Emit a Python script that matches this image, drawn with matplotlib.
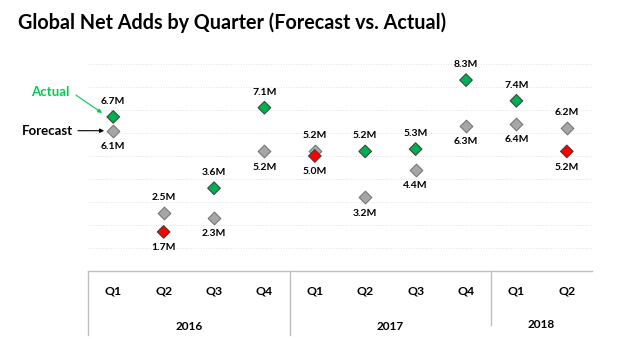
import numpy as np
import matplotlib.pyplot as plt

quarters = ['Q1', 'Q2', 'Q3', 'Q4', 'Q1', 'Q2', 'Q3', 'Q4', 'Q1', 'Q2']
years = ['2016', '2017', '2018']
year_quarters = [4, 4, 2]
forecast = [6.1, 2.5, 2.3, 5.2, 5.2, 3.2, 4.4, 6.3, 6.4, 6.2]
actual = [6.7, 1.7, 3.6, 7.1, 5.0, 5.2, 5.3, 8.3, 7.4, 5.2]

plt.rcParams['font.family'] = ['Lato', 'DejaVu Sans']

GREEN = '#00b050'
RED = '#ff0000'
GREY = '#a6a6a6'

fig = plt.figure(figsize=(6.22, 3.39), dpi=100)
ax = fig.add_axes([0.1415, 0.2006, 0.8103, 0.6106])

x = np.arange(len(quarters))
ax.set_xlim(-0.5, len(quarters) - 0.5)
ax.set_ylim(0, 9)

for v in range(1, 10):
    ax.axhline(v, color='#d9d9d9', lw=0.6, ls=(0, (1, 2)), zorder=0)

act_colors = [GREEN if a >= f else RED for a, f in zip(actual, forecast)]
ax.scatter(x, forecast, marker='D', s=42, color=GREY, edgecolor='#6e6e6e', lw=0.7, zorder=3)
ax.scatter(x, actual, marker='D', s=42, color=act_colors, edgecolor='#3a3a3a', lw=0.7, zorder=4)

# higher value gets its label above, lower one below
for xi, f, a in zip(x, forecast, actual):
    hi, lo = max(f, a), min(f, a)
    ax.annotate(f'{hi:.1f}M', (xi, hi), xytext=(0, 8), textcoords='offset points',
                ha='center', va='bottom', fontsize=7.5, fontweight='bold')
    ax.annotate(f'{lo:.1f}M', (xi, lo), xytext=(0, -8), textcoords='offset points',
                ha='center', va='top', fontsize=7.5, fontweight='bold')

# callouts on the first quarter
ax.text(-1.25, 7.78, 'Actual', color='#00cc50', fontsize=9.5, fontweight='bold',
        ha='center', va='center', clip_on=False)
ax.annotate('', xy=(-0.22, 6.87), xytext=(-0.74, 7.65), annotation_clip=False,
            arrowprops=dict(arrowstyle='-|>', color='#00cc50', lw=0.8, mutation_scale=6,
                            shrinkA=0, shrinkB=0))
ax.text(-1.31, forecast[0], 'Forecast', color='black', fontsize=9.5, fontweight='bold',
        ha='center', va='center', clip_on=False)
ax.annotate('', xy=(-0.18, forecast[0]), xytext=(-0.70, forecast[0]), annotation_clip=False,
            arrowprops=dict(arrowstyle='-|>', color='black', lw=0.8, mutation_scale=6,
                            shrinkA=0, shrinkB=0))

for s in ax.spines.values():
    s.set_visible(False)
ax.set_xticks([])
ax.set_yticks([])

# category table under the plot
line_kw = dict(color='#bfbfbf', lw=1, clip_on=False)
ax.plot([-0.5, len(quarters) - 0.5], [0, 0], **line_kw)
ax.plot([-0.5, -0.5], [0, -2.78], **line_kw)
start = 0
for i, (yr, n) in enumerate(zip(years, year_quarters)):
    end = start + n
    if 0 < start:
        ax.plot([start - 0.5, start - 0.5], [0, -2.78 if i < 2 else -2.35], **line_kw)
    ax.text((start + end - 1) / 2, -2.43 if i < 2 else -2.33, yr, ha='center', va='center',
            fontsize=8.5, fontweight='bold')
    start = end
for xi, q in zip(x, quarters):
    ax.text(xi, -0.87, q, ha='center', va='center', fontsize=8.8, fontweight='bold')

fig.text(0.029, 0.932, 'Global Net Adds by Quarter (Forecast vs. Actual)',
         fontsize=14.2, fontweight='bold', ha='left', va='center')

fig.savefig('out.png', dpi=100)
